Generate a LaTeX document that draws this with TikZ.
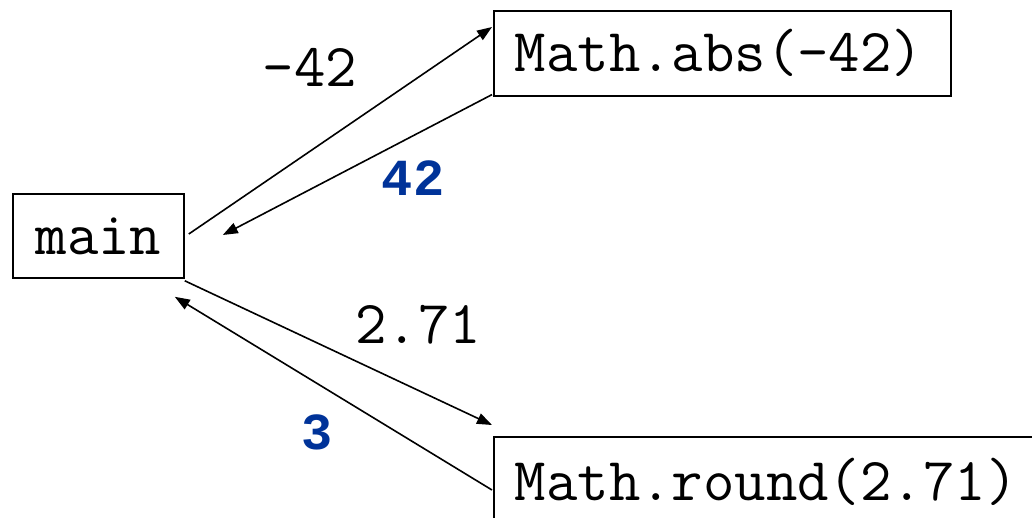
\documentclass[tikz,border=0pt]{standalone}
\usepackage{fontspec}
\setmonofont{Latin Modern Mono}
\newfontfamily\boldmono{Liberation Mono}
\usetikzlibrary{arrows.meta}
\definecolor{valblue}{RGB}{0,51,153}
\tikzset{
  callbox/.style={draw=black, line width=1.6pt, font=\ttfamily\fontsize{61}{68}\selectfont, inner ysep=2pt},
  passlbl/.style={font=\ttfamily\fontsize{61}{68}\selectfont, inner sep=0pt},
  retlbl/.style={font=\boldmono\bfseries\fontsize{52}{60}\selectfont, text=valblue, inner sep=0pt},
  callarrow/.style={line width=1.6pt, -{Triangle[length=15pt,width=11pt]}}
}
\begin{document}
\begin{tikzpicture}[x=1pt,y=-1pt]
\clip (0,0) rectangle (1032,518);
\fill[white] (0,0) rectangle (1032,518);
\node[callbox, minimum width=171pt, minimum height=84pt, inner xsep=0pt] (main) at (98.5,236) {main};
\node[callbox, anchor=north west, text width=415pt, align=left, inner xsep=21pt, minimum height=85pt] (abs) at (493,10) {Math.abs(-42)};
\node[callbox, anchor=north west, text width=580pt, align=left, inner xsep=21pt, minimum height=90pt] (round) at (493,436) {Math.round(2.71)};
\coordinate (p1) at ([shift={(4,-2)}]main.east);
\coordinate (q1) at ([shift={(-1,17)}]abs.north west);
\coordinate (p2) at ([shift={(-1,-2)}]abs.south west);
\coordinate (q2) at ([shift={(38,-1)}]main.east);
\coordinate (p3) at ([shift={(0,2)}]main.south east);
\coordinate (q3) at ([shift={(-1,-11)}]round.north west);
\coordinate (p4) at ([shift={(-1,54)}]round.north west);
\coordinate (q4) at ([shift={(-10,18)}]main.south east);
\draw[callarrow] (p1) -- (q1);
\draw[callarrow] (p2) -- (q2);
\draw[callarrow] (p3) -- (q3);
\draw[callarrow] (p4) -- (q4);
\node[passlbl] (l1) at (310,67) {-42};
\node[retlbl] (l2) at (413,178) {42};
\node[passlbl] (l3) at (418,325) {2.71};
\node[retlbl] (l4) at (317,432) {3};
\end{tikzpicture}
\end{document}
